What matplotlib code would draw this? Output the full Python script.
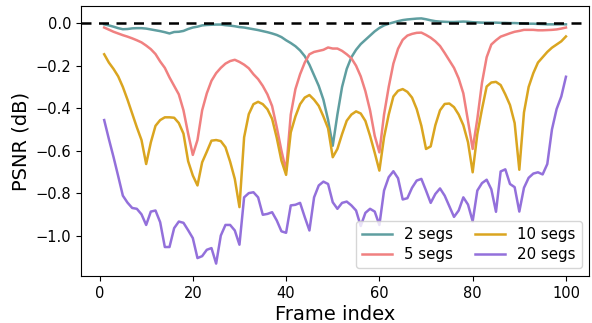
import numpy as np
import matplotlib
matplotlib.use("Agg")
import matplotlib.pyplot as plt

frames = list(range(1, 101))

segs2 = [-0.005, -0.01, -0.016, -0.023, -0.028, -0.027, -0.024, -0.023, -0.023, -0.025,
         -0.029, -0.033, -0.037, -0.042, -0.048, -0.041, -0.04, -0.036, -0.027, -0.02,
         -0.016, -0.01, -0.008, -0.007, -0.006, -0.006, -0.009, -0.011, -0.014, -0.018,
         -0.02, -0.024, -0.028, -0.032, -0.037, -0.042, -0.048, -0.055, -0.065, -0.08,
         -0.093, -0.108, -0.128, -0.155, -0.195, -0.245, -0.295, -0.36, -0.455, -0.577,
         -0.43, -0.3, -0.215, -0.16, -0.125, -0.098, -0.078, -0.058, -0.038, -0.022,
         -0.01, -0.002, 0.004, 0.01, 0.015, 0.018, 0.02, 0.022, 0.023, 0.019,
         0.014, 0.01, 0.008, 0.007, 0.006, 0.006, 0.007, 0.008, 0.007, 0.005,
         0.004, 0.003, 0.003, 0.003, 0.003, 0.002, 0.002, 0.001, 0.001, 0.0,
         -0.001, -0.002, -0.002, -0.003, -0.004, -0.005, -0.005, -0.005, -0.005, -0.005]

segs5 = [-0.02, -0.03, -0.04, -0.048, -0.056, -0.063, -0.071, -0.08, -0.09, -0.105,
         -0.122, -0.145, -0.18, -0.21, -0.255, -0.295, -0.335, -0.41, -0.52, -0.62,
         -0.55, -0.41, -0.33, -0.271, -0.235, -0.21, -0.19, -0.178, -0.172, -0.182,
         -0.195, -0.212, -0.24, -0.263, -0.295, -0.335, -0.39, -0.49, -0.6, -0.694,
         -0.43, -0.31, -0.24, -0.185, -0.146, -0.135, -0.13, -0.125, -0.114, -0.119,
         -0.119, -0.13, -0.146, -0.165, -0.2, -0.25, -0.32, -0.41, -0.53, -0.608,
         -0.43, -0.3, -0.19, -0.12, -0.078, -0.058, -0.05, -0.045, -0.044, -0.055,
         -0.068, -0.085, -0.107, -0.14, -0.175, -0.21, -0.26, -0.33, -0.46, -0.592,
         -0.451, -0.28, -0.16, -0.1, -0.08, -0.063, -0.055, -0.047, -0.04, -0.036,
         -0.031, -0.031, -0.031, -0.033, -0.033, -0.032, -0.031, -0.029, -0.025, -0.02]

segs10 = [-0.146, -0.185, -0.215, -0.25, -0.30, -0.36, -0.425, -0.49, -0.55, -0.663,
          -0.561, -0.483, -0.456, -0.443, -0.443, -0.445, -0.47, -0.52, -0.65, -0.717,
          -0.764, -0.655, -0.605, -0.553, -0.55, -0.555, -0.584, -0.652, -0.733, -0.866,
          -0.537, -0.428, -0.381, -0.37, -0.381, -0.405, -0.45, -0.54, -0.647, -0.714,
          -0.514, -0.439, -0.381, -0.35, -0.338, -0.36, -0.389, -0.439, -0.495, -0.631,
          -0.592, -0.522, -0.459, -0.43, -0.415, -0.425, -0.46, -0.53, -0.61, -0.694,
          -0.537, -0.43, -0.345, -0.318, -0.31, -0.323, -0.35, -0.404, -0.483, -0.592,
          -0.58, -0.48, -0.41, -0.38, -0.378, -0.395, -0.43, -0.48, -0.56, -0.702,
          -0.522, -0.404, -0.298, -0.279, -0.276, -0.291, -0.335, -0.385, -0.47, -0.69,
          -0.42, -0.3, -0.235, -0.185, -0.16, -0.135, -0.115, -0.1, -0.085, -0.062]

segs20 = [-0.456, -0.545, -0.63, -0.72, -0.812, -0.845, -0.87, -0.874, -0.9, -0.95,
          -0.887, -0.882, -0.937, -1.054, -1.054, -0.965, -0.934, -0.94, -0.975, -1.012,
          -1.106, -1.097, -1.067, -1.059, -1.132, -1.0, -0.95, -0.95, -0.976, -1.043,
          -0.82, -0.8, -0.796, -0.82, -0.902, -0.898, -0.89, -0.929, -0.98, -0.987,
          -0.858, -0.855, -0.846, -0.913, -0.976, -0.82, -0.764, -0.746, -0.757, -0.843,
          -0.874, -0.846, -0.84, -0.858, -0.882, -0.955, -0.893, -0.874, -0.887, -0.95,
          -0.788, -0.725, -0.697, -0.73, -0.83, -0.824, -0.775, -0.741, -0.733, -0.788,
          -0.846, -0.804, -0.778, -0.812, -0.862, -0.912, -0.882, -0.82, -0.854, -0.933,
          -0.788, -0.753, -0.737, -0.782, -0.888, -0.698, -0.688, -0.757, -0.772, -0.887,
          -0.775, -0.728, -0.708, -0.702, -0.712, -0.663, -0.5, -0.404, -0.345, -0.252]

labels = ["2 segs", "5 segs", "10 segs", "20 segs"]
colors = ["cadetblue", "lightcoral", "goldenrod", "mediumpurple"]

fig = plt.figure(figsize=(5.92, 3.23), dpi=100)
ax = fig.add_axes([0.137, 0.146, 0.858, 0.835])

for vals, lab, col in zip([segs2, segs5, segs10, segs20], labels, colors):
    ax.plot(frames, vals, color=col, lw=1.8, label=lab)

ax.axhline(0, color="black", ls="--", lw=1.8, dashes=(4, 3))

ax.set_xlabel("Frame index", fontsize=14, labelpad=3)
ax.set_ylabel("PSNR (dB)", fontsize=14)
ax.tick_params(labelsize=10.5)
ax.legend(loc="lower right", ncol=2, fontsize=10.8, handlelength=2.0,
          columnspacing=1.5, borderpad=0.4, labelspacing=0.35)

fig.savefig("out.png", dpi=100)
